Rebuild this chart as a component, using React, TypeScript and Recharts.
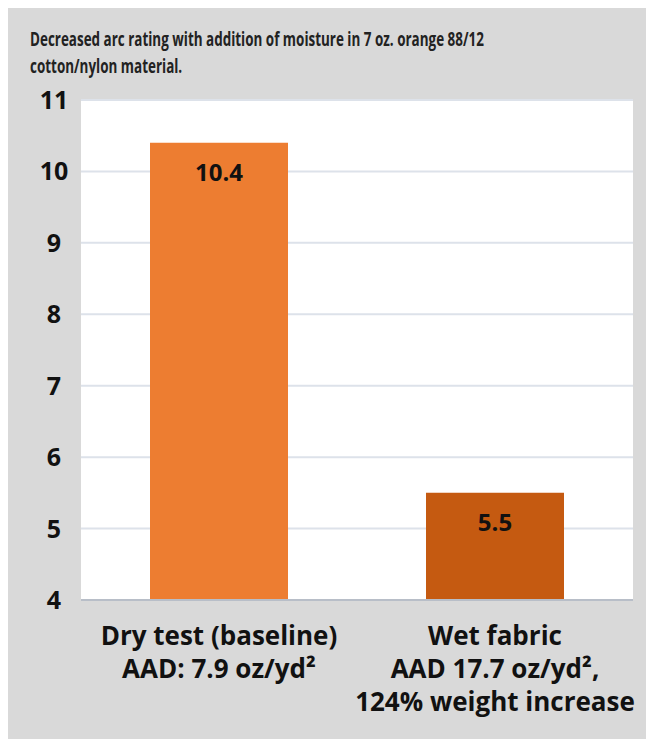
import React from 'react';
import { BarChart, Bar, XAxis, YAxis, CartesianGrid, Cell, LabelList } from 'recharts';

const categories = ['Dry test (baseline)|AAD: 7.9 oz/yd²', 'Wet fabric|AAD 17.7 oz/yd²,|124% weight increase'];
const ratings = [10.4, 5.5];
const barColors = ['#ED7D31', '#C55A11'];
const yTicks = [4, 5, 6, 7, 8, 9, 10, 11];
const titleLines = ['Decreased arc rating with addition of moisture in 7 oz. orange 88/12', 'cotton/nylon material.'];

const chartData = categories.map((name, i) => ({ name, value: ratings[i] }));

const labelFont = '"Open Sans", "DejaVu Sans", sans-serif';

const XTick = (props: any) => {
  const { x, y, payload } = props;
  const lines = String(payload.value).split('|');
  return (
    <text x={x} y={y + 37} textAnchor="middle" fontFamily={labelFont} fontWeight={700} fontSize={26} fill="#111">
      {lines.map((l: string, i: number) => (
        <tspan key={i} x={x} dy={i === 0 ? 0 : 33}>{l}</tspan>
      ))}
    </text>
  );
};

const YTick = (props: any) => {
  const { x, y, payload } = props;
  return (
    <text x={x - 19} y={y + 9} textAnchor="middle" fontFamily={labelFont} fontWeight={700} fontSize={25} fill="#111">
      {payload.value}
    </text>
  );
};

export default function App() {
  return (
    <div style={{ position: 'relative', marginTop: -4, width: 644, height: 735, background: '#d9d9d9', borderRight: '2px solid #8796ab' }}>
      <div style={{ position: 'absolute', left: 22, top: 21, fontFamily: '"Open Sans", sans-serif', fontWeight: 700, fontSize: 20, lineHeight: '27px', color: '#222', transform: 'scaleX(0.672)', transformOrigin: 'left top', whiteSpace: 'nowrap' }}>
        {titleLines.map((t, i) => (
          <div key={i}>{t}</div>
        ))}
      </div>
      <BarChart width={644} height={735} data={chartData} margin={{ top: 96, right: 19, bottom: 0, left: 0 }} barCategoryGap="25%">
        <CartesianGrid vertical={false} stroke="#dde2ea" strokeWidth={2} fill="#ffffff" />
        <XAxis dataKey="name" height={139} tick={<XTick />} tickLine={false} axisLine={{ stroke: '#b8bec8', strokeWidth: 2 }} interval={0} />
        <YAxis width={73} domain={[4, 11]} ticks={yTicks} tick={<YTick />} tickLine={false} axisLine={false} />
        <Bar dataKey="value" isAnimationActive={false}>
          {chartData.map((d, i) => (
            <Cell key={i} fill={barColors[i]} />
          ))}
          <LabelList dataKey="value" position="insideTop" offset={21} fill="#111" fontFamily={labelFont} fontWeight={700} fontSize={24} />
        </Bar>
      </BarChart>
    </div>
  );
}
